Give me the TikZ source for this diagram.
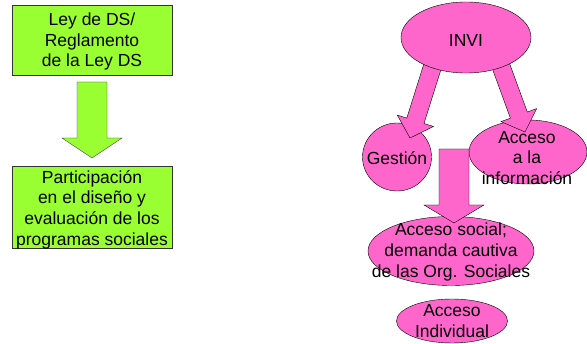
\documentclass[tikz,border=0pt]{standalone}
\usepackage{fontspec}
\setmainfont{Liberation Sans}
\usetikzlibrary{shapes.geometric}
\definecolor{lima}{HTML}{99FF33}
\definecolor{rosa}{HTML}{FF66CC}
\tikzset{
  caja/.style={draw=black!80, fill=lima, minimum width=160pt, inner sep=0pt},
  elipse/.style={ellipse, draw, fill=rosa, inner sep=0pt},
  texto/.style={align=center, font=\fontsize{17.5}{20.7}\selectfont, inner sep=0pt},
  flechav/.style={draw=black!80, fill=lima, line join=miter},
  flechar/.style={draw, fill=rosa, line join=miter},
}
\begin{document}
\begin{tikzpicture}[x=1pt, y=-1pt]
        \useasboundingbox (0,0) rectangle (587,344);

        % lado izquierdo
        \node[caja, minimum height=70pt] (ley) at (92,40) {};
        \node[texto] (leytxt) at (92,41.5) {Ley de DS/\\Reglamento\\de la Ley DS};
        \node[caja, minimum height=82pt] (part) at (92,207) {};
        \node[texto] (parttxt) at (92,209.5) {Participación\\en el diseño y\\evaluación de los\\programas sociales};

        \filldraw[flechav] (77,82) -- (107,82) -- (107,138) -- (122,138) -- (92,158)
          -- (62,138) -- (77,138) -- cycle;

        % lado derecho
        \node[elipse, minimum width=69pt, minimum height=68pt] (gestion) at (397,157) {};
        \node[texto] (gestiontxt) at (397,158) {Gestión};
        \node[elipse, minimum width=118pt, minimum height=64pt] (acceso) at (528,152) {};
        \node[texto] (accesotxt) at (527,158) {Acceso\\a la\\información};

        \filldraw[flechar] (425.8,57.7) -- (443.0,63.1) -- (424.0,123.5) -- (433.5,126.5)
          -- (410,138) -- (397.3,115.1) -- (406.8,118.1) -- cycle;
        \filldraw[flechar] (488.8,59.1) -- (505.7,52.9) -- (527.3,112.0) -- (536.7,108.6)
          -- (525,132) -- (501.0,121.6) -- (510.4,118.2) -- cycle;

        \node[elipse, minimum width=130pt, minimum height=71pt] (invi) at (466,37.5) {};
        \node[texto] (invitxt) at (466,40) {INVI};

        \node[elipse, minimum width=166pt, minimum height=69pt] (social) at (451,251) {};
        \node[texto] (socialtxt) at (451,252) {Acceso social;\\demanda cautiva\\de las Org. Sociales};

        \filldraw[flechar] (439,149) -- (469,149) -- (469,205) -- (484,205) -- (454,223)
          -- (424,205) -- (439,205) -- cycle;

        \node[elipse, minimum width=111pt, minimum height=44pt] (indiv) at (452,321) {};
        \node[texto] (indivtxt) at (452,321) {Acceso\\Individual};
      \end{tikzpicture}
\end{document}
